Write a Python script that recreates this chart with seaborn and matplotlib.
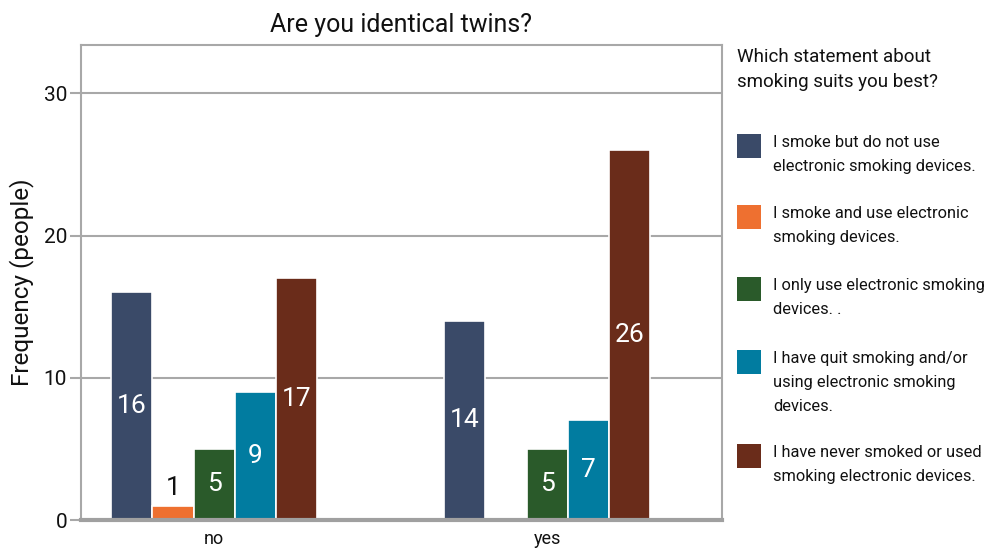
import matplotlib
matplotlib.use("Agg")
import matplotlib.pyplot as plt
import seaborn as sns
import pandas as pd
from matplotlib.patches import Rectangle

# Survey counts: identical twins vs. smoking habits
twins = ["no", "yes"]
statements = [
    "I smoke but do not use\nelectronic smoking devices.",
    "I smoke and use electronic\nsmoking devices.",
    "I only use electronic smoking\ndevices. .",
    "I have quit smoking and/or\nusing electronic smoking\ndevices.",
    "I have never smoked or used\nsmoking electronic devices.",
]
counts_no = [16, 1, 5, 9, 17]
counts_yes = [14, 0, 5, 7, 26]
colors = ["#3a4a68", "#ee7030", "#2a5a2a", "#017ca0", "#6a2c1a"]
legend_title = ["Which statement about", "smoking suits you best?"]

rows = []
for twin, counts in zip(twins, [counts_no, counts_yes]):
    for s, c in zip(statements, counts):
        rows.append({"twin": twin, "statement": s, "count": c})
df = pd.DataFrame(rows)

sns.set_theme(style="white")
plt.rcParams["font.family"] = ["Roboto", "DejaVu Sans"]

W, H = 994, 552
fig = plt.figure(figsize=(W / 100, H / 100), dpi=100)
ax = fig.add_axes([81 / W, 1 - 520 / H, (722 - 81) / W, (520 - 45) / H])

sns.barplot(data=df, x="twin", y="count", hue="statement", order=twins,
            hue_order=statements, palette=colors, width=0.62, gap=0.0,
            edgecolor="white", linewidth=1.2, saturation=1, legend=False, ax=ax)

ax.set_ylim(0, 33.4)
ax.set_xlim(-0.4, 1.525)
ax.set_yticks([0, 10, 20, 30])
ax.yaxis.grid(True, color="#a8a8a8", linewidth=1.5)
ax.set_axisbelow(True)
ax.set_xlabel("")
ax.set_ylabel("Frequency (people)", fontsize=17.5, color="#111111", labelpad=7)
ax.set_title("Are you identical twins?", fontsize=18, color="#111111", pad=9)

for side in ["left", "top", "right"]:
    ax.spines[side].set_color("#a8a8a8")
    ax.spines[side].set_linewidth(1.5)
ax.spines["bottom"].set_color("#a0a0a0")
ax.spines["bottom"].set_linewidth(3)

ax.tick_params(axis="y", length=8, width=1.5, color="#a8a8a8", labelsize=15,
               labelcolor="#111111", pad=2, left=True)
ax.tick_params(axis="x", length=0, labelsize=13, labelcolor="#111111", pad=7)

# Value labels: inside tall bars in white, above short ones in black
for container, s in zip(ax.containers, statements):
    for bar, twin in zip(container.patches, twins):
        v = df[(df.twin == twin) & (df.statement == s)]["count"].iloc[0]
        if v == 0:
            continue
        cx = bar.get_x() + bar.get_width() / 2
        if v >= 3:
            ax.text(cx, v / 2, f"{v}", ha="center", va="center",
                    color="white", fontsize=19)
        else:
            ax.text(cx, v + 0.4, f"{v}", ha="center", va="bottom",
                    color="#111111", fontsize=19)

# Legend drawn in pixel coordinates on the right side of the figure
def fy(py):
    return 1 - py / H

for i, line in enumerate(legend_title):
    fig.text(737 / W, fy(62 + 25 * i), line, fontsize=13.5, color="#111111",
             ha="left", va="baseline")

square_tops = [134, 205, 277, 350, 444]
for top, color, label in zip(square_tops, colors, statements):
    fig.patches.append(Rectangle((737 / W, fy(top + 24)), 24 / W, 24 / H,
                                 transform=fig.transFigure, facecolor=color,
                                 edgecolor="none"))
    for j, line in enumerate(label.split("\n")):
        fig.text(773 / W, fy(top + 13 + 24 * j), line, fontsize=11.8,
                 color="#111111", ha="left", va="baseline")

fig.savefig("out.png", dpi=100)
